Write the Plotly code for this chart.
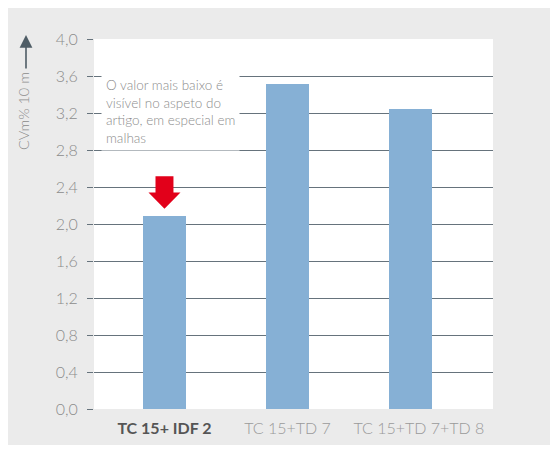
import plotly.graph_objects as go

categories = ["TC 15+ IDF 2", "TC 15+TD 7", "TC 15+TD 7+TD 8"]
tick_labels = ["<b><span style='color:#555555'>TC 15+ IDF 2</span></b>", "TC 15+TD 7",
               "&nbsp;&nbsp;&nbsp;&nbsp;TC 15+TD 7+TD 8"]
values = [2.09, 3.51, 3.24]
y_ticks = [0.0, 0.4, 0.8, 1.2, 1.6, 2.0, 2.4, 2.8, 3.2, 3.6, 4.0]
y_tick_text = ["0,0", "0,4", "0,8", "1,2", "1,6", "2,0", "2,4", "2,8", "3,2", "3,6", "4,0"]
note_text = "O valor mais baixo é<br>visível no aspeto do<br>artigo, em especial em<br>malhas"

FONT = "Lato"
GRID = "#66737c"
BAR = "#86b0d5"
RED = "#e2001a"

# page body has an 8px margin -> figure is 550x442 placed at (8,8)
W, H = 550, 442
L, R, T, B = 86, 65, 31, 41
PW, PH = W - L - R, H - T - B

fig = go.Figure()
xpos = list(range(len(categories)))
fig.add_trace(go.Bar(x=xpos, y=values, width=0.35, marker=dict(color=BAR, line=dict(width=0)),
                     hoverinfo="skip"))

# red block arrow above lowest bar, built relative to its value
v0 = values[0]
x0 = xpos[0]
tip = v0 + 0.075
hb = tip + 0.175
top = tip + 0.35
path = (f"M {x0},{tip} L {x0-0.13},{hb} L {x0-0.073},{hb} L {x0-0.073},{top} "
        f"L {x0+0.073},{top} L {x0+0.073},{hb} L {x0+0.13},{hb} Z")
fig.add_shape(type="path", path=path, xref="x", yref="y", fillcolor=RED, line=dict(width=0), layer="above")

fig.update_layout(
    width=W, height=H,
    margin=dict(l=L, r=R, t=T, b=B),
    paper_bgcolor="#ebebeb",
    plot_bgcolor="#ffffff",
    showlegend=False,
    bargap=0,
    font=dict(family=FONT, color="#8c8c8c"),
    xaxis=dict(
        range=[-0.573, 2.671], tickvals=xpos, ticktext=tick_labels,
        showgrid=False, zeroline=False, showline=False, ticks="",
        tickfont=dict(family=FONT, size=16, color="#9a9a9a", weight=300),
        ticklabelstandoff=8, fixedrange=True,
    ),
    yaxis=dict(
        range=[0, 4.0], tickvals=y_ticks, ticktext=y_tick_text,
        showgrid=True, gridcolor=GRID, gridwidth=1.4,
        zeroline=False, showline=False,
        ticks="outside", ticklen=6, tickcolor=GRID, tickwidth=1.4,
        tickfont=dict(family=FONT, size=16, color="#8c8c8c", weight=300),
        ticklabelstandoff=6, fixedrange=True,
    ),
)

# white strip at the bottom edge of the grey panel
fig.add_shape(type="rect", xref="paper", yref="paper",
              x0=-L/PW, x1=1 + R/PW, y0=-B/PH, y1=-(B-5)/PH,
              fillcolor="white", line=dict(width=0), layer="below")

# note box
fig.add_annotation(xref="paper", yref="y", x=7/PW, y=3.22, xanchor="left", yanchor="middle",
                   text=note_text, showarrow=False, align="left",
                   font=dict(family=FONT, size=13.5, color="#8c8c8c", weight=300),
                   bgcolor="white", borderpad=4)

# y title with upward arrow
fig.add_annotation(xref="paper", yref="paper", x=0, xshift=-71, y=(PH - (111 - 39)) / PH,
                   yanchor="middle", xanchor="center",
                   text="CVm% 10 m", textangle=-90, showarrow=False,
                   font=dict(family=FONT, size=14.5, color="#8c8c8c", weight=300))
fig.add_annotation(xref="paper", yref="paper", x=0, xshift=-68, y=(PH + 4) / PH,
                   ax=0, ay=35, text="", showarrow=True, arrowhead=2, arrowsize=1.6,
                   arrowwidth=1.6, arrowcolor="#4f5d66")

fig.write_html("out.html")
